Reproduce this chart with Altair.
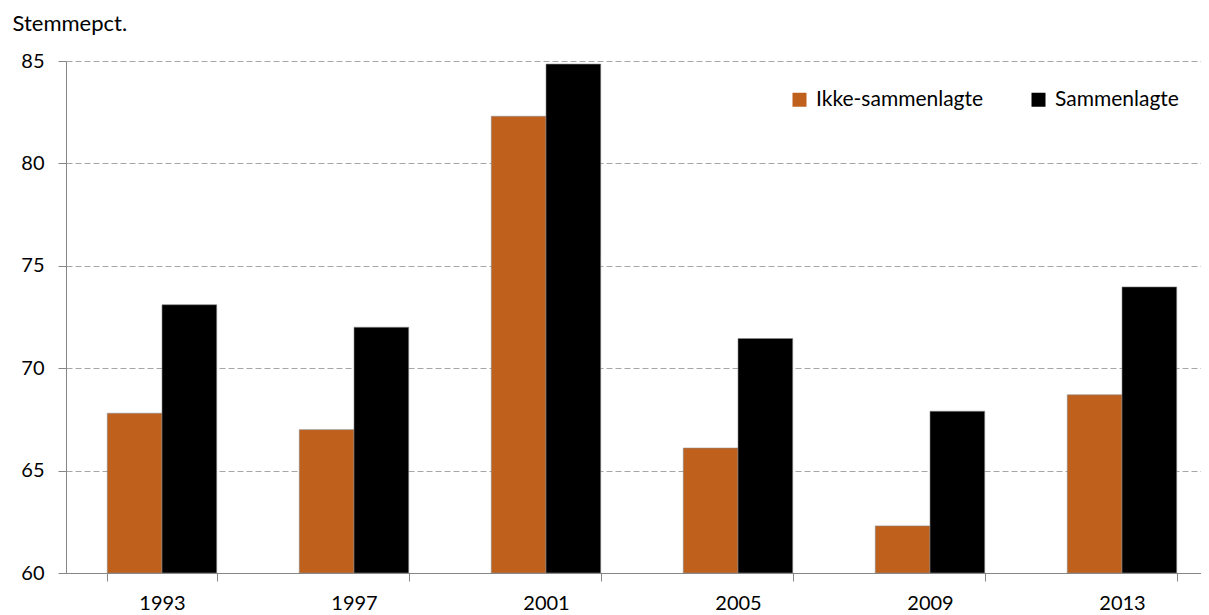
import altair as alt
import pandas as pd

years = ["1993", "1997", "2001", "2005", "2009", "2013"]
ikke = [67.8, 67.0, 82.3, 66.1, 62.3, 68.7]
samm = [73.1, 72.0, 84.85, 71.45, 67.9, 73.97]
series = ["Ikke-sammenlagte", "Sammenlagte"]
colors = ["#C0601D", "#000000"]
y_ticks = [60, 65, 70, 75, 80, 85]

rows = []
for i, yr in enumerate(years):
    rows.append({"year": yr, "series": series[0], "value": ikke[i]})
    rows.append({"year": yr, "series": series[1], "value": samm[i]})
df = pd.DataFrame(rows)

FONT = "Lato"
W, H = 1135, 512
X_RANGE = 1152  # full category range; the rightmost part falls past the window edge

chart = alt.Chart(df).mark_bar(stroke="#8a8a8a", strokeWidth=0.6).encode(
    x=alt.X(
        "year:N", sort=years, title=None,
        scale=alt.Scale(paddingInner=0.43, paddingOuter=0.215, range=[0, X_RANGE]),
        axis=alt.Axis(
            labelAngle=0, tickBand="extent", grid=False,
            domainColor="#868686", tickColor="#868686", tickSize=8,
            labelPadding=12, labelFont=FONT, labelFontSize=20, labelColor="#000000",
        ),
    ),
    xOffset=alt.XOffset("series:N", sort=series,
                        scale=alt.Scale(paddingInner=0, paddingOuter=0)),
    y=alt.Y(
        "value:Q",
        scale=alt.Scale(domain=[60, 85], zero=False, nice=False),
        axis=alt.Axis(
            values=y_ticks, title="Stemmepct.", titleAngle=0, titleAlign="left",
            titleBaseline="alphabetic", titleX=-54, titleY=-31,
            titleFont=FONT, titleFontSize=22, titleFontWeight="normal", titleColor="#000000",
            gridDash=[6, 3], gridColor="#a6a6a6", gridWidth=1,
            domainColor="#868686", tickColor="#868686", tickSize=8,
            labelPadding=14, labelFont=FONT, labelFontSize=20, labelColor="#000000",
        ),
    ),
    y2=alt.datum(60),
    color=alt.Color(
        "series:N", sort=series,
        scale=alt.Scale(domain=series, range=colors),
        legend=alt.Legend(
            title=None, orient="none", legendX=723, legendY=28,
            direction="horizontal", symbolType="square", symbolSize=196,
            symbolStrokeWidth=0, labelFont=FONT, labelFontSize=21, labelColor="#000000",
            labelOffset=6, columnPadding=44, padding=0, labelLimit=400,
        ),
    ),
).properties(
    width=W, height=H,
    autosize=alt.AutoSizeParams(type="none"),
    padding={"left": 58, "top": 53, "right": 0, "bottom": 42},
).configure_view(stroke=None)

chart.save("out.html", embed_options={"renderer": "svg", "actions": False})
